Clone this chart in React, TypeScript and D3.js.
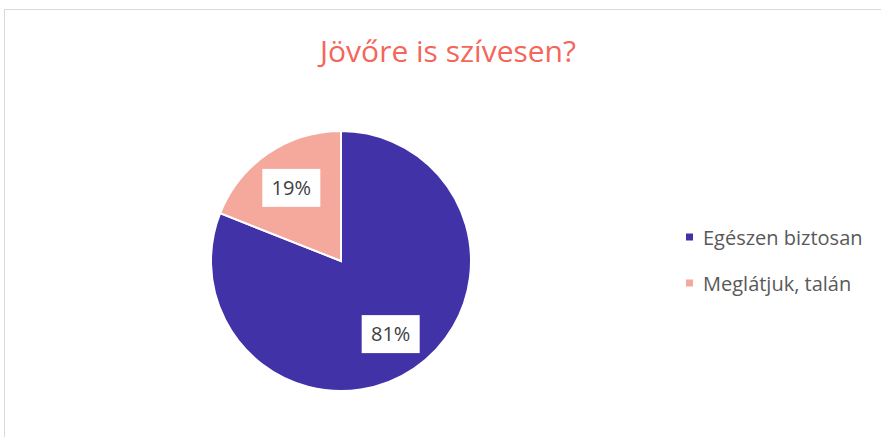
import * as d3 from "d3";

const categories = ["Egészen biztosan", "Meglátjuk, talán"];
const values = [81, 19];
const colors = ["#4232a8", "#f5a99c"];
const title = "Jövőre is szívesen?";

const width = 881;
const height = 437;

export default function App() {
  const cx = 341;
  const cy = 261;
  const r = 130;

  const pie = d3.pie<number>().sort(null).value((d) => d);
  const arcs = pie(values);
  const arc = d3.arc<d3.PieArcDatum<number>>().innerRadius(0).outerRadius(r);
  const labelArc = d3
    .arc<d3.PieArcDatum<number>>()
    .innerRadius(r * 0.68)
    .outerRadius(r * 0.68);

  const legendY = d3.scalePoint<string>().domain(categories).range([237, 283]);

  return (
    <svg
      width={width}
      height={height}
      style={{ position: "absolute", left: 0, top: 0, fontFamily: "'Open Sans', 'Noto Sans', sans-serif" }}
    >
      <rect width={width} height={height} fill="#fff" />
      <rect x={4.5} y={9.5} width={width + 20} height={height + 20} fill="#fff" stroke="#d9d9d9" />
      <text x={448} y={62} textAnchor="middle" fill="#f4655a" fontSize={30}>
        {title}
      </text>
      <g transform={`translate(${cx},${cy})`}>
        {arcs.map((a, i) => (
          <path key={i} d={arc(a) ?? ""} fill={colors[i]} stroke="#fff" strokeWidth={2} />
        ))}
        {arcs.map((a, i) => {
          const [lx, ly] = labelArc.centroid(a);
          return (
            <g key={`l${i}`} transform={`translate(${lx},${ly})`}>
              <rect x={-29} y={-19} width={58} height={38} fill="#fff" />
              <text y={7} textAnchor="middle" fill="#404040" fontSize={20}>
                {`${values[i]}%`}
              </text>
            </g>
          );
        })}
      </g>
      {categories.map((c, i) => (
        <g key={c} transform={`translate(686,${legendY(c)})`}>
          <rect x={0} y={-3.5} width={7} height={7} fill={colors[i]} />
          <text x={17} y={8} fill="#595959" fontSize={20}>
            {c}
          </text>
        </g>
      ))}
    </svg>
  );
}
